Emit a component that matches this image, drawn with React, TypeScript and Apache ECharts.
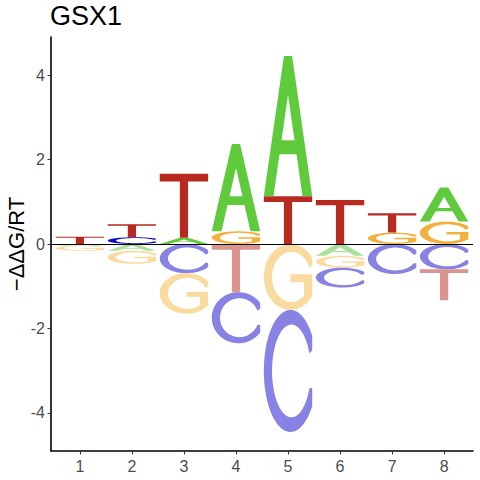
import React, { useEffect, useRef } from "react";
import * as echarts from "echarts";

// ---- data ----
const positions = [1, 2, 3, 4, 5, 6, 7, 8];
const letters = ["A", "C", "G", "T"];
const valuesA = [-0.04, -0.16, 0.15, 2.07, 3.32, -0.28, 0.0, 0.81];
const valuesC = [0.0, 0.16, -0.69, -1.21, -2.89, -0.47, -0.71, -0.6];
const valuesG = [-0.12, -0.31, -0.96, 0.3, -1.56, -0.28, 0.27, 0.53];
const valuesT = [0.17, 0.31, 1.51, -1.14, 1.13, 1.04, 0.46, -0.73];
const xTickValues = [1, 2, 3, 4, 5, 6, 7, 8];
const yTickValues = [-4, -2, 0, 2, 4];
const titleText = "GSX1";
const yAxisTitle = "\u2212\u0394\u0394G/RT";

const fullColors = ["#5FCB3C", "#0A0ACC", "#F4B03C", "#B82A20"];
const lightColors = ["#A9E19A", "#8782E3", "#FADB9F", "#DB948E"];

const FONT = "'Liberation Sans', Arial, sans-serif";

// ---- glyph outlines (unit box 0..100) ----
type P = [number, number];
const fmt = (p: P) => p[0].toFixed(2) + "," + p[1].toFixed(2);
function arc(cx: number, cy: number, rx: number, ry: number, a0: number, a1: number, n: number): P[] {
  const out: P[] = [];
  for (let i = 0; i <= n; i++) {
    const a = ((a0 + ((a1 - a0) * i) / n) * Math.PI) / 180;
    out.push([cx + rx * Math.cos(a), cy - ry * Math.sin(a)]);
  }
  return out;
}
const poly = (pts: P[]) => "M" + pts.map(fmt).join(" L") + " Z";

const oT = (Math.acos(45 / 55) * 180) / Math.PI;
const glyphC = poly([
  ...arc(55, 50, 55, 50, oT, 360 - oT, 80),
  [100, 64],
  ...arc(57, 50, 40, 38, 338, 22, 80),
  [100, 33],
]);
const gInner = 360 - (Math.acos(0.65) * 180) / Math.PI;
const glyphG = poly([
  ...arc(55, 50, 55, 50, oT, 360 - oT, 80),
  [100, 46],
  [55, 46],
  [55, 58],
  [83, 58],
  ...arc(57, 50, 40, 38, gInner, 22, 80),
  [100, 33],
]);
const glyphA =
  poly([
    [41.5, 0],
    [58.5, 0],
    [100, 100],
    [80, 100],
    [67.55, 70],
    [32.45, 70],
    [20, 100],
    [0, 100],
  ]) +
  " " +
  poly([
    [36.6, 60],
    [63.4, 60],
    [50, 27.7],
  ]);
const glyphT = poly([
  [0, 0],
  [100, 0],
  [100, 12],
  [58.5, 12],
  [58.5, 100],
  [41.5, 100],
  [41.5, 12],
  [0, 12],
]);
const glyphs = [glyphA, glyphC, glyphG, glyphT];

function buildStacks() {
  const all = [valuesA, valuesC, valuesG, valuesT];
  const items: number[][] = [];
  positions.forEach((pos, i) => {
    const vals = letters.map((_, li) => ({ li, v: all[li][i] }));
    const pos_ = vals.filter((d) => d.v > 0).sort((a, b) => a.v - b.v);
    const neg_ = vals.filter((d) => d.v < 0).sort((a, b) => b.v - a.v);
    let acc = 0;
    pos_.forEach((d) => {
      items.push([pos, acc, acc + d.v, d.li, 1]);
      acc += d.v;
    });
    acc = 0;
    neg_.forEach((d) => {
      items.push([pos, acc, acc + d.v, d.li, 0]);
      acc += d.v;
    });
  });
  return items;
}

export default function App() {
  const ref = useRef<HTMLDivElement>(null);
  useEffect(() => {
    if (!ref.current) return;
    const chart = echarts.init(ref.current, null, { renderer: "svg" });
    const data = buildStacks();
    chart.setOption({
      animation: false,
      backgroundColor: "#fff",
      title: {
        text: titleText,
        left: 50,
        top: 2,
        padding: 0,
        textStyle: { fontFamily: FONT, fontSize: 27, fontWeight: "normal", color: "#000" },
      },
      grid: { left: 51, right: 7, top: 37, bottom: 29, outerBoundsMode: "none" },
      xAxis: {
        type: "value",
        min: 0.445,
        max: 8.555,
        splitLine: { show: false },
        axisLine: { show: true, onZero: false, lineStyle: { color: "#000", width: 1.6 } },
        axisTick: { show: true, length: 3.5, customValues: xTickValues, lineStyle: { color: "#333", width: 1 } },
        axisLabel: {
          customValues: xTickValues,
          margin: 7,
          color: "#4D4D4D",
          fontSize: 16,
          fontFamily: FONT,
        },
      },
      yAxis: {
        type: "value",
        min: -4.9,
        max: 4.9,
        splitLine: { show: false },
        axisLine: { show: true, onZero: false, lineStyle: { color: "#000", width: 1.6 } },
        axisTick: { show: true, length: 3.5, customValues: yTickValues, lineStyle: { color: "#333", width: 1 } },
        axisLabel: {
          customValues: yTickValues,
          margin: 6,
          color: "#4D4D4D",
          fontSize: 16,
          fontFamily: FONT,
        },
      },
      graphic: [
        {
          type: "text",
          x: 16,
          y: 244,
          rotation: Math.PI / 2,
          style: {
            text: yAxisTitle,
            fontSize: 22,
            fontFamily: FONT,
            fill: "#000",
            align: "center",
            verticalAlign: "middle",
          },
        },
      ],
      series: [
        {
          type: "custom",
          data,
          encode: { x: 0, y: [1, 2] },
          renderItem: (params: any, api: any) => {
            const x = api.value(0);
            const y0 = api.value(1);
            const y1 = api.value(2);
            const li = api.value(3);
            const isPos = api.value(4) === 1;
            const p0 = api.coord([x - 0.465, Math.max(y0, y1)]);
            const p1 = api.coord([x + 0.465, Math.min(y0, y1)]);
            return {
              type: "path",
              shape: {
                pathData: glyphs[li],
                x: p0[0],
                y: p0[1],
                width: p1[0] - p0[0],
                height: Math.max(p1[1] - p0[1], 0.3),
                layout: "cover",
              },
              style: { fill: isPos ? fullColors[li] : lightColors[li] },
            };
          },
          markLine: {
            silent: true,
            symbol: ["none", "none"],
            label: { show: false },
            lineStyle: { color: "#000", width: 1, type: "solid" },
            data: [{ yAxis: 0 }],
            z: 10,
          },
        },
      ],
    });
    return () => chart.dispose();
  }, []);
  return <div ref={ref} style={{ position: "absolute", left: 0, top: 0, width: 480, height: 480 }} />;
}
